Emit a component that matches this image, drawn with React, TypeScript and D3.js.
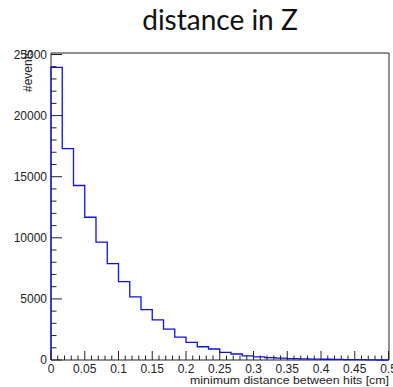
import React from "react";
import * as d3 from "d3";

const title = "distance in Z";
const xTitle = "minimum distance between hits [cm]";
const yTitle = "#events";
const binCount = 30;
const xRange = [0, 0.5];
const yRange = [0, 25000];
const counts = [
  23950, 17300, 14280, 11680, 9640, 7880, 6410, 5160, 4130, 3285,
  2525, 1875, 1440, 1085, 900, 620, 490, 340, 260, 200,
  150, 120, 95, 75, 60, 45, 35, 25, 15, 0,
];
const xTicks = [0, 0.05, 0.1, 0.15, 0.2, 0.25, 0.3, 0.35, 0.4, 0.45, 0.5];
const xTickLabels = ["0", "0.05", "0.1", "0.15", "0.2", "0.25", "0.3", "0.35", "0.4", "0.45", "0.5"];
const yTicks = [0, 5000, 10000, 15000, 20000, 25000];
const yTickLabels = ["0", "5000", "10000", "15000", "20000", "25000"];

export default function App() {
  const W = 393, H = 387;
  const left = 51, right = 389, top = 53, bottom = 360;
  const x = d3.scaleLinear().domain(xRange).range([left, 388.5]);
  const y = d3.scaleLinear().domain(yRange).range([bottom, 54.5]);
  const bw = (xRange[1] - xRange[0]) / binCount;
  const pts: [number, number][] = [];
  counts.forEach((c, i) => {
    pts.push([x(i * bw), y(c)]);
    pts.push([x((i + 1) * bw), y(c)]);
  });
  const line = d3.line();
  const first = `M${x(0)},${y(0)}L${x(0)},${y(counts[0])}`;
  const path = first + (line(pts) || "").replace(/^M/, "L");
  const minorX = d3.range(0, 51).map((i) => i * 0.01);
  const minorY = d3.range(0, 26).map((i) => i * 1000);
  const font = "Liberation Sans, Arial, Helvetica, sans-serif";
  const axisColor = "#222";
  return (
    <svg width={W} height={H} style={{ position: "absolute", left: 0, top: 0, background: "#fff" }}>
      <rect x={0} y={0} width={W} height={H} fill="#fff" />
      <text x={220} y={29.5} textAnchor="middle" fontFamily="Lato, 'Open Sans', sans-serif" fontSize={28} fill="#111">{title}</text>
      <path d={`M${left},${bottom}V${top}H${right}V${bottom}H${left}`} fill="none" stroke={axisColor} strokeWidth={1} />
      <path d={path} fill="none" stroke="#1010e0" strokeWidth={1.3} />
      {minorX.map((v, i) => {
        const major = i % 5 === 0;
        return <line key={"mx" + i} x1={x(v)} x2={x(v)} y1={bottom} y2={bottom - (major ? 9 : 4.5)} stroke={axisColor} strokeWidth={1} />;
      })}
      {minorY.map((v, i) => {
        const major = i % 5 === 0;
        return <line key={"my" + i} x1={left} x2={left + (major ? 11 : 5.5)} y1={y(v)} y2={y(v)} stroke={axisColor} strokeWidth={1} />;
      })}
      {xTicks.map((v, i) => (
        <text key={"xl" + i} x={x(v)} y={373} textAnchor="middle" fontFamily={font} fontSize={12} fill="#222">{xTickLabels[i]}</text>
      ))}
      {yTicks.map((v, i) => (
        <text key={"yl" + i} x={47} y={y(v) + 4} textAnchor="end" fontFamily={font} fontSize={12} fill="#222">{yTickLabels[i]}</text>
      ))}
      <text x={190} y={383.5} fontFamily={font} fontSize={11.2} textLength={199} lengthAdjust="spacingAndGlyphs" fill="#222">{xTitle}</text>
      <text transform={`translate(32,50) rotate(-90)`} textAnchor="end" fontFamily={font} fontSize={12} fill="#222">{yTitle}</text>
    </svg>
  );
}
